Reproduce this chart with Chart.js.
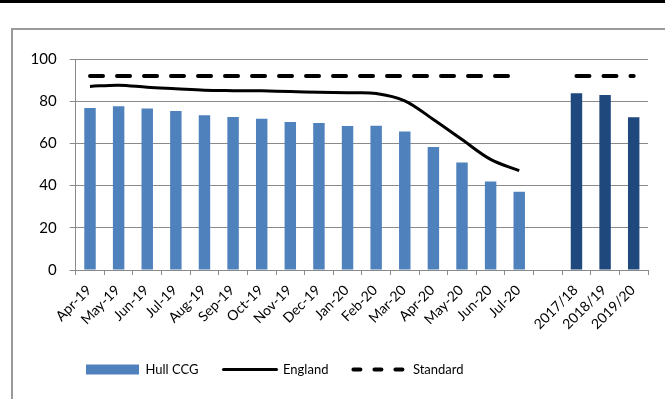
<!DOCTYPE html>
<html>
<head>
<meta charset="utf-8">
<script src="https://cdn.jsdelivr.net/npm/chart.js@4/dist/chart.umd.min.js"></script>
<style>
  html, body { margin: 0; padding: 0; background: #fff; }
  body { width: 665px; height: 399px; position: relative; overflow: hidden; }
  #rule { position: absolute; left: 0; top: 0; width: 665px; height: 3px; background: #000; }
  #frame { position: absolute; left: 11px; top: 28px; width: 700px; height: 420px;
           border: 2px solid #9a9a9a; box-sizing: border-box; }
  #wrap { position: absolute; left: 0; top: 0; width: 665px; height: 399px; }
</style>
</head>
<body>
<div id="rule"></div>
<div id="frame"></div>
<div id="wrap"><canvas id="c" width="665" height="399"></canvas></div>
<script>
// Monthly categories, a spacer, then financial years
const monthLabels = ['Apr-19','May-19','Jun-19','Jul-19','Aug-19','Sep-19','Oct-19','Nov-19',
                     'Dec-19','Jan-20','Feb-20','Mar-20','Apr-20','May-20','Jun-20','Jul-20'];
const yearLabels = ['2017/18','2018/19','2019/20'];

// Hull CCG performance (%)
const hullMonthly = [76.8, 77.6, 76.5, 75.4, 73.3, 72.5, 71.7, 70.2, 69.7, 68.3, 68.4, 65.6, 58.3, 51.0, 41.9, 37.1];
const hullYearly = [83.8, 82.9, 72.4];

// England performance (%), monthly only
const englandMonthly = [87.0, 87.6, 86.6, 85.9, 85.2, 85.0, 84.9, 84.6, 84.2, 84.0, 83.7, 80.2, 71.3, 61.8, 52.4, 47.1];

// Operational standard (%)
const standardValue = 92;

const yTicks = [0, 20, 40, 60, 80, 100];

const labels = [...monthLabels, '', ...yearLabels];
const gap = [null];

const hullData = [...hullMonthly, ...gap, ...hullYearly];
const hullColors = [...monthLabels.map(() => '#4F81BD'), 'rgba(0,0,0,0)', ...yearLabels.map(() => '#1F497D')];
const englandData = [...englandMonthly, ...gap, ...yearLabels.map(() => null)];
const standardData = [...monthLabels.map(() => standardValue), ...gap, ...yearLabels.map(() => standardValue)];

const FONT = 'Lato, "Open Sans", sans-serif';
const GRID = '#8a8a8a';
const STANDARD_DASH = [13, 14];

// Slide the legend row so it starts under the first month rather than at the canvas edge
const legendShift = {
  id: 'legendShift',
  afterLayout(chart, args, opts) {
    if (chart.legend) chart.legend.left += opts.dx || 0;
  }
};

new Chart(document.getElementById('c'), {
  type: 'bar',
  data: {
    labels,
    datasets: [
      {
        type: 'bar',
        label: 'Hull CCG',
        data: hullData,
        backgroundColor: hullColors,
        borderWidth: 0,
        categoryPercentage: 1,
        barPercentage: 0.4,
        pointStyle: 'rect',
        order: 3
      },
      {
        type: 'line',
        label: 'England',
        data: englandData,
        borderColor: '#000',
        backgroundColor: '#000',
        borderWidth: 3,
        tension: 0.35,
        pointRadius: 0,
        pointStyle: 'line',
        spanGaps: false,
        order: 2
      },
      {
        type: 'line',
        label: 'Standard',
        data: standardData,
        borderColor: '#000',
        backgroundColor: '#000',
        borderWidth: 4,
        borderDash: STANDARD_DASH,
        borderCapStyle: 'round',
        pointRadius: 0,
        pointStyle: 'line',
        spanGaps: false,
        order: 1
      }
    ]
  },
  plugins: [legendShift],
  options: {
    responsive: false,
    animation: false,
    devicePixelRatio: 1,
    layout: { padding: { left: 5, right: 17, top: 59, bottom: 13 } },
    plugins: {
      tooltip: { enabled: false },
      legendShift: { dx: 56 },
      legend: {
        position: 'bottom',
        align: 'start',
        labels: {
          usePointStyle: true,
          pointStyleWidth: 53,
          boxHeight: 10,
          padding: 25,
          color: '#000',
          font: { family: FONT, size: 13 },
          sort: (a, b) => a.datasetIndex - b.datasetIndex,
          generateLabels(chart) {
            const items = Chart.defaults.plugins.legend.labels.generateLabels(chart);
            items.forEach((it) => {
              const ds = chart.data.datasets[it.datasetIndex];
              if (ds.type === 'line') {
                it.lineWidth = ds.borderWidth;
                it.lineDash = ds.borderDash ? [7, 14] : [];
                it.lineCap = 'round';
                it.strokeStyle = ds.borderColor;
              }
            });
            return items;
          }
        }
      }
    },
    scales: {
      x: {
        offset: true,
        grid: { display: true, drawOnChartArea: false, drawTicks: true, tickLength: 5, color: GRID, offset: true },
        border: { display: true, color: GRID, width: 1 },
        ticks: {
          color: '#000',
          font: { family: FONT, size: 14 },
          minRotation: 45,
          maxRotation: 45,
          autoSkip: false,
          padding: 7,
          labelOffset: -1
        },
        afterFit: (s) => { s.height = 68; }
      },
      y: {
        min: 0,
        max: 100,
        afterBuildTicks: (s) => { s.ticks = yTicks.map((v) => ({ value: v })); },
        ticks: { color: '#000', font: { family: FONT, size: 15 }, padding: 13 },
        grid: { color: GRID, lineWidth: 1, tickLength: 6, drawTicks: true },
        border: { display: true, color: GRID, width: 1 },
        afterFit: (s) => { s.width = 70.7; }
      }
    }
  }
});
</script>
</body>
</html>
